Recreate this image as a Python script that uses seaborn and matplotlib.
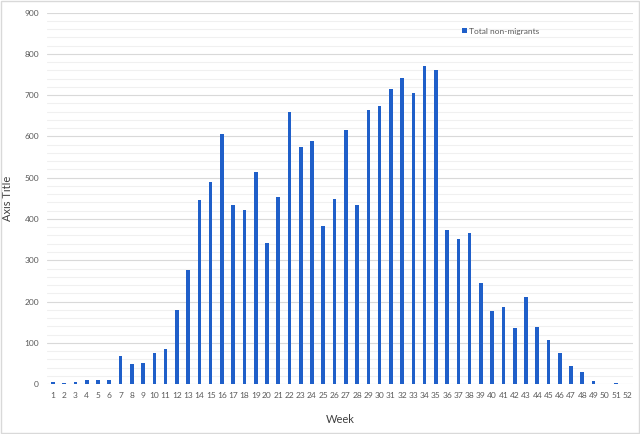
import numpy as np
import pandas as pd
import matplotlib
matplotlib.use("Agg")
import matplotlib.pyplot as plt
import seaborn as sns
from matplotlib.ticker import MultipleLocator

# values
weeks = list(range(1, 53))
non_migrants = [4, 2, 5, 10, 10, 11, 69, 48, 50, 75,
                85, 179, 277, 446, 490, 607, 433, 422, 515, 342,
                453, 659, 575, 590, 384, 449, 615, 435, 663, 674,
                714, 741, 704, 771, 760, 373, 351, 366, 244, 177,
                186, 136, 211, 139, 107, 76, 44, 30, 8, 0,
                2, 0]

df = pd.DataFrame({"Week": [str(w) for w in weeks], "Total non-migrants": non_migrants})

sns.set_style("white")
plt.rcParams["font.family"] = ["Lato", "DejaVu Sans"]

fig = plt.figure(figsize=(6.4, 4.34), dpi=100)
ax = fig.add_axes([0.074, 0.115, 0.915, 0.856])

sns.barplot(data=df, x="Week", y="Total non-migrants", color="#1f5fc9",
            width=0.32, saturation=1, linewidth=0, ax=ax, label="Total non-migrants")

ax.set_ylim(0, 900)
ax.set_xlim(-0.5, len(weeks) - 0.5)
ax.yaxis.set_major_locator(MultipleLocator(100))
ax.yaxis.set_minor_locator(MultipleLocator(20))
ax.grid(which="major", axis="y", color="#d9d9d9", linewidth=0.8)
ax.grid(which="minor", axis="y", color="#f0f0f0", linewidth=0.8)
ax.set_axisbelow(True)
for s in ax.spines.values():
    s.set_visible(False)
ax.tick_params(axis="both", which="both", length=0, labelsize=6, labelcolor="#595959", pad=6)
ax.set_xlabel("Week", fontsize=8, color="#404040")
ax.set_ylabel("Axis Title", fontsize=8, color="#404040")
ax.xaxis.set_label_coords(0.5, -0.08)
ax.yaxis.set_label_coords(-0.058, 0.5)

leg = ax.legend(loc="upper left", bbox_to_anchor=(0.695, 0.98), frameon=False,
                fontsize=6, handlelength=0.6, handleheight=0.6, handletextpad=0.3,
                labelcolor="#595959")

# light outer border like the Excel chart area
fig.patches.append(plt.Rectangle((0.002, 0.002), 0.996, 0.996, transform=fig.transFigure,
                                 fill=False, edgecolor="#d9d9d9", linewidth=1))

fig.savefig("out.png", dpi=100)
